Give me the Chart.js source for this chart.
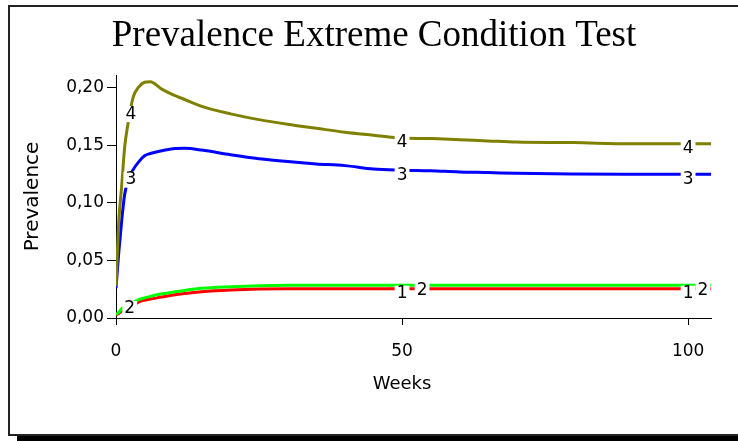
<!DOCTYPE html>
<html>
<head>
<meta charset="utf-8">
<script src="https://cdn.jsdelivr.net/npm/chart.js@4"></script>
<style>
  html, body { margin: 0; padding: 0; background: #fff; }
  canvas { display: block; }
</style>
</head>
<body>
<canvas id="chart" width="738" height="441"></canvas>
<script>
// simulation output, sampled by week
const weeks = [0, 0.5, 1, 1.5, 2, 3, 4, 5, 6, 8, 10, 12, 15, 20, 25, 30, 35, 40, 45, 50, 55, 60, 65, 70, 80, 90, 100, 104];

const run1 = [0.003, 0.004, 0.006, 0.0075, 0.009, 0.011, 0.014, 0.0155, 0.0165, 0.0182, 0.020, 0.0213, 0.0228, 0.0243, 0.0252, 0.0255, 0.0255, 0.0255, 0.0255, 0.0255, 0.0255, 0.0255, 0.0255, 0.0255, 0.0255, 0.0255, 0.0255, 0.0255];
const run2 = [0.003, 0.005, 0.008, 0.010, 0.0115, 0.0135, 0.016, 0.0175, 0.0188, 0.021, 0.0225, 0.024, 0.0258, 0.0272, 0.0281, 0.0284, 0.0284, 0.0284, 0.0284, 0.0284, 0.0284, 0.0284, 0.0284, 0.0284, 0.0284, 0.0284, 0.0284, 0.0284];
const run3 = [0.026, 0.058, 0.085, 0.107, 0.118, 0.129, 0.136, 0.141, 0.143, 0.1455, 0.1472, 0.1475, 0.146, 0.142, 0.1385, 0.136, 0.134, 0.1325, 0.1295, 0.1285, 0.128, 0.127, 0.1265, 0.1258, 0.1252, 0.125, 0.125, 0.125];
const run4 = [0.028, 0.085, 0.115, 0.148, 0.166, 0.192, 0.201, 0.205, 0.2055, 0.199, 0.194, 0.190, 0.184, 0.1775, 0.1725, 0.1685, 0.165, 0.1615, 0.159, 0.1565, 0.156, 0.155, 0.154, 0.153, 0.1525, 0.1515, 0.1515, 0.1515];

// weeks where each run's number is written on its line
const tags1 = [50, 100];
const tags2 = [2.4, 53.5, 102.6];
const tags3 = [2.6, 50, 100];
const tags4 = [2.6, 50, 100];

const xTicks = [0, 50, 100];
const yTicks = [0, 0.05, 0.10, 0.15, 0.20];

const sans = '"DejaVu Sans", Verdana, sans-serif';

function toPoints(ys) {
    return weeks.map((w, i) => ({ x: w, y: ys[i] }));
}

function run(label, ys, color, tags, order) {
    return {
        label: label,
        data: toPoints(ys),
        borderColor: color,
        backgroundColor: color,
        borderWidth: 3,
        pointRadius: 0,
        cubicInterpolationMode: 'monotone',
        tagWeeks: tags,
        order: order
    };
}

// white page, frame and drop shadow, plus the heading
const framePlugin = {
    id: 'frame',
    beforeDraw(chart) {
        const ctx = chart.ctx;
        ctx.save();
        ctx.fillStyle = '#fff';
        ctx.fillRect(0, 0, chart.width, chart.height);
        ctx.strokeStyle = '#222';
        ctx.lineWidth = 2;
        ctx.strokeRect(9, 6, chart.width + 10, 429);
        ctx.fillStyle = '#000';
        ctx.fillRect(17, 436, chart.width - 17, 5);
        ctx.font = '37px "Liberation Serif", "Times New Roman", serif';
        ctx.textAlign = 'center';
        ctx.textBaseline = 'middle';
        ctx.fillText('Prevalence Extreme Condition Test', 374, 36);
        ctx.restore();
    },
    afterDraw(chart) {
        // x axis caption sits under the 0..100 tick span
        const ctx = chart.ctx;
        const xs = chart.scales.x;
        const cx = (xs.getPixelForValue(xTicks[0]) + xs.getPixelForValue(xTicks[xTicks.length - 1])) / 2;
        ctx.save();
        ctx.font = '18px ' + sans;
        ctx.fillStyle = '#000';
        ctx.textAlign = 'center';
        ctx.textBaseline = 'middle';
        ctx.fillText('Weeks', cx, xs.bottom - 11);
        ctx.restore();
    }
};

// run numbers written over the lines, with a gap cut in the line
const tagPlugin = {
    id: 'lineTags',
    afterDatasetsDraw(chart) {
        const ctx = chart.ctx;
        const xs = chart.scales.x;
        ctx.save();
        ctx.font = '17px ' + sans;
        ctx.textAlign = 'center';
        ctx.textBaseline = 'middle';
        chart.data.datasets.forEach((ds, i) => {
            const pts = chart.getDatasetMeta(i).data;
            ds.tagWeeks.forEach(w => {
                const x = xs.getPixelForValue(w);
                let k = pts.findIndex(p => p.x >= x);
                if (k < 1) k = 1;
                const a = pts[k - 1], b = pts[k];
                const y = a.y + (b.y - a.y) * (x - a.x) / (b.x - a.x);
                const tw = ctx.measureText(ds.label).width;
                ctx.fillStyle = '#fff';
                ctx.fillRect(x - tw / 2 - 2, y - 3, tw + 4, 16);
                ctx.fillStyle = '#000';
                ctx.fillText(ds.label, x, y + 5);
            });
        });
        ctx.restore();
    }
};

new Chart(document.getElementById('chart'), {
    type: 'line',
    data: {
        datasets: [
            run('1', run1, '#ff0000', tags1, 3),
            run('2', run2, '#00ff00', tags2, 2),
            run('3', run3, '#0000ff', tags3, 1),
            run('4', run4, '#808000', tags4, 0)
        ]
    },
    options: {
        responsive: false,
        animation: false,
        devicePixelRatio: 1,
        layout: { padding: { left: 10, right: 27, top: 75, bottom: 46 } },
        plugins: {
            legend: { display: false },
            tooltip: { enabled: false },
            title: { display: false }
        },
        scales: {
            x: {
                type: 'linear',
                min: 0,
                max: 104,
                afterBuildTicks: s => { s.ticks = xTicks.map(v => ({ value: v })); },
                afterFit: s => { s.height = 77; },
                border: { color: '#000', width: 1 },
                grid: { drawOnChartArea: false, color: '#000', tickLength: 7 },
                ticks: { color: '#000', font: { family: sans, size: 17 }, padding: 16, maxRotation: 0 },
                title: { display: false }
            },
            y: {
                min: 0,
                max: 0.2113,
                afterBuildTicks: s => { s.ticks = yTicks.map(v => ({ value: v })); },
                afterFit: s => { s.width = 106; },
                border: { color: '#000', width: 1 },
                grid: { drawOnChartArea: false, color: '#000', tickLength: 9 },
                ticks: {
                    color: '#000',
                    font: { family: sans, size: 17 },
                    padding: 3,
                    callback: v => v.toFixed(2).replace('.', ',')
                },
                title: { display: true, text: 'Prevalence', color: '#000', font: { family: sans, size: 20 }, padding: { top: 11, bottom: 0 } }
            }
        }
    },
    plugins: [framePlugin, tagPlugin]
});
</script>
</body>
</html>
